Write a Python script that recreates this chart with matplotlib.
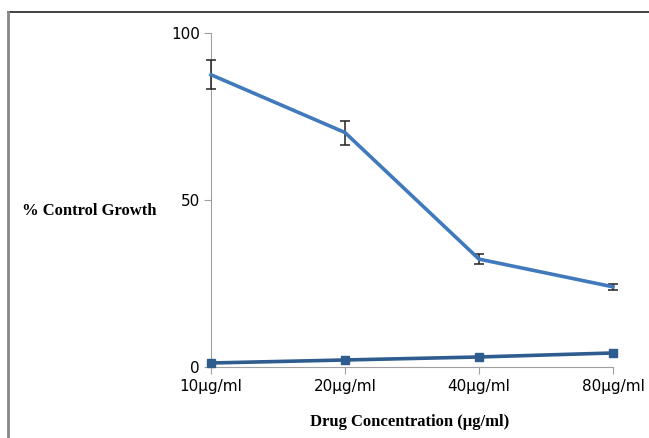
import matplotlib.pyplot as plt
from matplotlib.lines import Line2D

# data
concentrations = ['10µg/ml', '20µg/ml', '40µg/ml', '80µg/ml']
growth_drug = [87.5, 70.2, 32.3, 24.0]
growth_err = [4.3, 3.6, 1.5, 1.0]
growth_low = [1.2, 2.1, 3.0, 4.2]

fig = plt.figure(figsize=(6.49, 4.38), dpi=100)
ax = fig.add_axes([211 / 649, 1 - 367 / 438, (613 - 211) / 649, (367 - 33) / 438])

x = range(len(concentrations))
eb = ax.errorbar(x, growth_drug, yerr=growth_err, color='#4079BC', lw=2.6,
                 ecolor='#222222', elinewidth=1.1, capsize=3.5, capthick=1.1, zorder=3)
for art in eb.lines[1] + eb.lines[2] + (eb.lines[0],):
    art.set_clip_on(False)
line_low, = ax.plot(x, growth_low, color='#2E5C8E', lw=2.6, marker='s', ms=6, zorder=3)
line_low.set_clip_on(False)

ax.set_xlim(0, 3)
ax.set_ylim(0, 100)
ax.set_yticks([0, 50, 100])
ax.set_xticks(list(x))
ax.set_xticklabels(concentrations)

for side in ('top', 'right'):
    ax.spines[side].set_visible(False)
ax.spines['left'].set_color('#A0A0A0')
ax.spines['bottom'].set_color('#A0A0A0')
ax.tick_params(axis='y', direction='out', length=5, color='#A0A0A0', labelsize=11, pad=3)
ax.tick_params(axis='x', direction='out', length=5, color='#A0A0A0', labelsize=11, pad=4)

serif = dict(family='Liberation Serif', fontweight='bold', fontsize=12)
fig.text(22 / 649, 1 - 211 / 438, '% Control Growth', ha='left', va='center', **serif)
fig.text(410 / 649, 1 - 422 / 438, 'Drug Concentration (µg/ml)', ha='center', va='center', **serif)

# frame lines (top and left only)
fig.add_artist(Line2D([8 / 649, 1], [1 - 12 / 438] * 2, transform=fig.transFigure,
                      color='#333333', lw=1.3))
fig.add_artist(Line2D([8 / 649] * 2, [0, 1 - 12 / 438], transform=fig.transFigure,
                      color='#888888', lw=2))

fig.savefig('out.png', dpi=100)
